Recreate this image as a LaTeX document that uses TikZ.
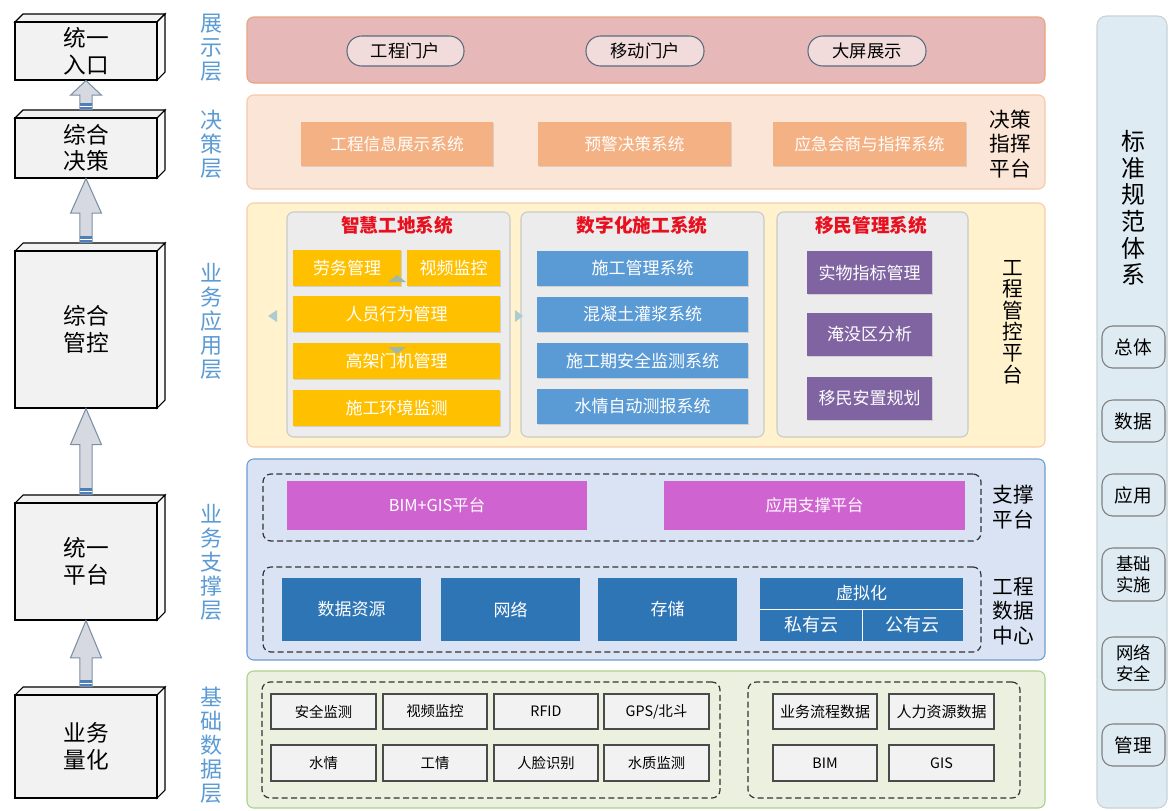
\documentclass[tikz,border=0pt]{standalone}
\usepackage{fontspec}
\setmainfont{Noto Sans CJK SC}
\usetikzlibrary{calc,shadows}
\definecolor{cubeF}{HTML}{F2F2F2}
\definecolor{cubeS}{HTML}{FAFAFA}
\definecolor{arrF}{HTML}{D6DAE0}
\definecolor{arrD}{HTML}{7D8FA6}
\definecolor{bandC}{HTML}{4F7FB8}
\definecolor{layerC}{HTML}{5B9BD5}
\definecolor{p1F}{HTML}{E6B9B8}
\definecolor{p1D}{HTML}{E9A47E}
\definecolor{pillF}{HTML}{F2DCDB}
\definecolor{pillD}{HTML}{5A6A80}
\definecolor{p2F}{HTML}{FBE5D6}
\definecolor{p2D}{HTML}{F4C9AA}
\definecolor{orgF}{HTML}{F4B183}
\definecolor{p3F}{HTML}{FFF2CC}
\definecolor{p3D}{HTML}{F8CBAD}
\definecolor{subF}{HTML}{ECECEC}
\definecolor{subD}{HTML}{C9C9C9}
\definecolor{yelF}{HTML}{FFC000}
\definecolor{bluF}{HTML}{5B9BD5}
\definecolor{purF}{HTML}{8064A2}
\definecolor{redT}{HTML}{E8101E}
\definecolor{p4F}{HTML}{DAE3F3}
\definecolor{p4D}{HTML}{6C9BD2}
\definecolor{magF}{HTML}{CF64D1}
\definecolor{dbF}{HTML}{2E75B6}
\definecolor{p5F}{HTML}{EBF1DE}
\definecolor{p5D}{HTML}{A9D18E}
\definecolor{gbF}{HTML}{F2F2F2}
\definecolor{gbD}{HTML}{4A4A4A}
\definecolor{rcF}{HTML}{DEEBF2}
\definecolor{rcD}{HTML}{C8D2D8}
\definecolor{rbD}{HTML}{7F7F7F}
\definecolor{triC}{HTML}{A9CDD0}
\definecolor{triY}{HTML}{9FB8A8}
\newcommand\bx[7][]{\node[inner sep=0pt,minimum width={(#5-#3)*0.75pt},minimum height={(#6-#4)*0.75pt},#1] (#2) at ({(#3+#5)/2},{(#4+#6)/2}) {#7};}
\newcommand\cube[6]{%
  \filldraw[cubeF,draw=black,line width=0.8pt] (#2,#3) -- (#2+8,#3-8) -- (#4+8,#3-8) -- (#4,#3) -- cycle;
  \filldraw[cubeS,draw=black,line width=0.8pt] (#4,#3) -- (#4+8,#3-8) -- (#4+8,#5-8) -- (#4,#5) -- cycle;
  \bx[cubefront]{#1}{#2}{#3}{#4}{#5}{#6}}
\newcommand\barrow[3]{%
  \draw[barr] let \p1=(#1), \p2=(#2) in
   (\x2,\y2) -- (\x2+11.6pt,\y2-#3) -- (\x2+4.6pt,\y2-#3) -- (\x2+4.6pt,\y1) --
   (\x2-4.6pt,\y1) -- (\x2-4.6pt,\y2-#3) -- (\x2-11.6pt,\y2-#3) -- cycle;
  \fill[bandC] let \p1=(#1), \p2=(#2) in (\x2-4.6pt,\y1) rectangle (\x2+4.6pt,\y1+5pt);
  \draw[white,line width=0.6pt] let \p1=(#1), \p2=(#2) in (\x2-4.6pt,\y1+2.5pt) -- (\x2+4.6pt,\y1+2.5pt);}
\begin{document}
\begin{tikzpicture}[x=0.75pt,y=-0.75pt,
  cubefront/.style={draw=black,line width=0.8pt,fill=cubeF,align=center,font=\fontsize{17}{20}\selectfont},
  barr/.style={fill=arrF,draw=arrD,line width=0.8pt},
  layerlbl/.style={text=layerC,align=center,font=\fontsize{16.5}{18}\selectfont,inner sep=0pt},
  sidelbl/.style={align=center,font=\fontsize{15.5}{18.5}\selectfont,inner sep=0pt},
  panel/.style={rounded corners=5pt,line width=0.8pt},
  pill/.style={draw=pillD,fill=pillF,rounded corners=11pt,line width=0.8pt,font=\fontsize{13}{15}\selectfont},
  shad/.style={drop shadow={opacity=0.25,shadow xshift=1pt,shadow yshift=-1pt}},
  orgbox/.style={fill=orgF,text=white,font=\fontsize{12.5}{14}\selectfont,shad},
  subpanel/.style={fill=subF,draw=subD,rounded corners=5pt,line width=0.8pt},
  ttl/.style={text=redT,font=\bfseries\fontsize{14}{16}\selectfont,inner sep=0pt},
  yelbox/.style={fill=yelF,text=white,font=\fontsize{12.75}{14}\selectfont,shad},
  blubox/.style={fill=bluF,text=white,font=\fontsize{12.75}{14}\selectfont,shad},
  purbox/.style={fill=purF,text=white,font=\fontsize{12.75}{14}\selectfont,shad},
  magbox/.style={fill=magF,text=white,font=\fontsize{12.25}{14}\selectfont},
  dbbox/.style={fill=dbF,text=white,font=\fontsize{12.75}{14}\selectfont},
  dashbox/.style={draw=black!80,dashed,dash pattern=on 4.5pt off 2.5pt,rounded corners=6pt,line width=0.9pt},
  gbox/.style={fill=gbF,draw=gbD,line width=0.9pt,font=\fontsize{10.75}{12}\selectfont,drop shadow={opacity=0.2,shadow xshift=1pt,shadow yshift=-1pt}},
  rbox/.style={fill=rcF,draw=rbD,rounded corners=8pt,line width=0.8pt,align=center,font=\fontsize{13}{16}\selectfont}]
\useasboundingbox (0,0) rectangle (1169,810);
\fill[white] (0,0) rectangle (1169,810);

% ---------- left 3D boxes ----------
\cube{c1}{15}{22}{157}{80}{统一\\入口}
\cube{c2}{15}{118}{157}{178}{综合\\决策}
\cube{c3}{15}{251}{157}{408}{综合\\管控}
\cube{c4}{15}{503}{157}{620}{统一\\平台}
\cube{c5}{15}{695}{157}{798}{业务\\量化}
\coordinate (c2t) at ($(c2.north)+(0,-8)$);
\coordinate (c3t) at ($(c3.north)+(0,-8)$);
\coordinate (c4t) at ($(c4.north)+(0,-8)$);
\coordinate (c5t) at ($(c5.north)+(0,-8)$);
\barrow{c2t}{c1.south}{11pt}
\barrow{c3t}{c2.south}{26pt}
\barrow{c4t}{c3.south}{27pt}
\barrow{c5t}{c4.south}{28pt}

% ---------- layer labels ----------
\node[layerlbl] (l1) at (211,48) {展\\示\\层};
\node[layerlbl] (l2) at (211,144) {决\\策\\层};
\node[layerlbl] (l3) at (211,321) {业\\务\\应\\用\\层};
\node[layerlbl] (l4) at (211,562) {业\\务\\支\\撑\\层};
\node[layerlbl] (l5) at (211,745) {基\\础\\数\\据\\层};

% ---------- panel 1 ----------
\bx[panel,fill=p1F,draw=p1D]{P1}{247}{17}{1045}{83}{}
\bx[pill]{m1}{347}{36}{464}{66}{工程门户}
\bx[pill]{m2}{586}{36}{704}{66}{移动门户}
\bx[pill]{m3}{808}{36}{926}{66}{大屏展示}

% ---------- panel 2 ----------
\bx[panel,fill=p2F,draw=p2D]{P2}{247}{95}{1045}{189}{}
\bx[orgbox]{d1}{301}{122}{493}{166}{工程信息展示系统}
\bx[orgbox]{d2}{538}{122}{731}{166}{预警决策系统}
\bx[orgbox]{d3}{773}{122}{966}{166}{应急会商与指挥系统}
\node[sidelbl] (s1) at (1010,144) {决策\\指挥\\平台};

% ---------- panel 3 ----------
\bx[panel,fill=p3F,draw=p3D]{P3}{247}{203}{1045}{447}{}
\bx[subpanel]{SA}{287}{212}{510}{437}{}
\bx[subpanel]{SB}{521}{212}{764}{437}{}
\bx[subpanel]{SC}{777}{212}{968}{437}{}
\node[ttl] (tA) at (397,225) {智慧工地系统};
\node[ttl] (tB) at (642,225) {数字化施工系统};
\node[ttl] (tC) at (871,225) {移民管理系统};
\bx[yelbox]{a1}{293}{250}{401}{286}{劳务管理}
\bx[yelbox]{a2}{407}{250}{500}{286}{视频监控}
\bx[yelbox]{a3}{293}{296}{500}{332}{人员行为管理}
\bx[yelbox]{a4}{293}{343}{500}{379}{高架门机管理}
\bx[yelbox]{a5}{293}{390}{500}{426}{施工环境监测}
\fill[triC] (268,316) -- (277,310) -- (277,322) -- cycle;
\fill[triC] (523,316) -- (515,310) -- (515,322) -- cycle;
\fill[triY] (397,275) -- (406,282) -- (388,282) -- cycle;
\fill[triY] (397,354) -- (406,347) -- (388,347) -- cycle;
\bx[blubox]{b1}{537}{251}{748}{286}{施工管理系统}
\bx[blubox]{b2}{537}{297}{748}{332}{混凝土灌浆系统}
\bx[blubox]{b3}{537}{343}{748}{378}{施工期安全监测系统}
\bx[blubox]{b4}{537}{389}{748}{424}{水情自动测报系统}
\bx[purbox]{e1}{807}{251}{932}{294}{实物指标管理}
\bx[purbox]{e2}{807}{313}{932}{356}{淹没区分析}
\bx[purbox]{e3}{807}{377}{932}{420}{移民安置规划}
\node[sidelbl,font=\fontsize{15.5}{16}\selectfont] (s2) at (1013,322) {工\\程\\管\\控\\平\\台};

% ---------- panel 4 ----------
\bx[panel,fill=p4F,draw=p4D]{P4}{247}{459}{1045}{660}{}
\bx[dashbox]{D1}{263}{474}{981}{541}{}
\bx[dashbox]{D2}{263}{567}{981}{652}{}
\bx[magbox]{g1}{287}{481}{587}{530}{BIM+GIS平台}
\bx[magbox]{g2}{664}{481}{965}{530}{应用支撑平台}
\node[sidelbl] (s3) at (1013,507) {支撑\\平台};
\bx[dbbox]{h1}{282}{578}{421}{641}{数据资源}
\bx[dbbox]{h2}{441}{578}{580}{641}{网络}
\bx[dbbox]{h3}{598}{578}{737}{641}{存储}
\bx[dbbox]{vt}{760}{578}{963}{609}{虚拟化}
\bx[dbbox,font=\fontsize{13.5}{15}\selectfont]{pv}{760}{609}{862}{641}{私有云}
\bx[dbbox,font=\fontsize{13.5}{15}\selectfont]{pb}{862}{609}{963}{641}{公有云}
\draw[white,line width=0.8pt] (vt.south west) -- (vt.south east);
\draw[white,line width=0.8pt] (pv.north east) -- (pv.south east);
\node[sidelbl] (s4) at (1013,611) {工程\\数据\\中心};

% ---------- panel 5 ----------
\bx[panel,fill=p5F,draw=p5D]{P5}{247}{671}{1045}{808}{}
\bx[dashbox]{D3}{262}{682}{720}{798}{}
\bx[dashbox]{D4}{748}{682}{1020}{798}{}
\bx[gbox]{k1}{271}{694}{376}{729}{安全监测}
\bx[gbox]{k2}{383}{694}{487}{729}{视频监控}
\bx[gbox]{k3}{494}{694}{598}{729}{RFID}
\bx[gbox]{k4}{604}{694}{709}{729}{GPS/北斗}
\bx[gbox]{k5}{271}{745}{376}{781}{水情}
\bx[gbox]{k6}{383}{745}{487}{781}{工情}
\bx[gbox]{k7}{494}{745}{598}{781}{人脸识别}
\bx[gbox]{k8}{604}{745}{709}{781}{水质监测}
\bx[gbox,font=\fontsize{11.25}{12}\selectfont]{n1}{773}{694}{877}{729}{业务流程数据}
\bx[gbox,font=\fontsize{11.25}{12}\selectfont]{n2}{889}{694}{994}{729}{人力资源数据}
\bx[gbox]{n3}{773}{745}{877}{781}{BIM}
\bx[gbox]{n4}{889}{745}{994}{781}{GIS}

% ---------- right column ----------
\bx[fill=rcF,draw=rcD,rounded corners=7pt,line width=0.8pt]{RC}{1097}{16}{1167}{808}{}
\node[align=center,inner sep=0pt,font=\fontsize{18}{20}\selectfont] (rt) at (1133,208) {标\\准\\规\\范\\体\\系};
\bx[rbox,font=\fontsize{14}{16}\selectfont]{r1}{1102}{326}{1165}{368}{总体}
\bx[rbox,font=\fontsize{14}{16}\selectfont]{r2}{1102}{400}{1165}{442}{数据}
\bx[rbox,font=\fontsize{14}{16}\selectfont]{r3}{1102}{474}{1165}{516}{应用}
\bx[rbox]{r4}{1102}{548}{1165}{601}{基础\\实施}
\bx[rbox]{r5}{1102}{637}{1165}{690}{网络\\安全}
\bx[rbox,font=\fontsize{14}{16}\selectfont]{r6}{1102}{724}{1165}{766}{管理}
\end{tikzpicture}
\end{document}
